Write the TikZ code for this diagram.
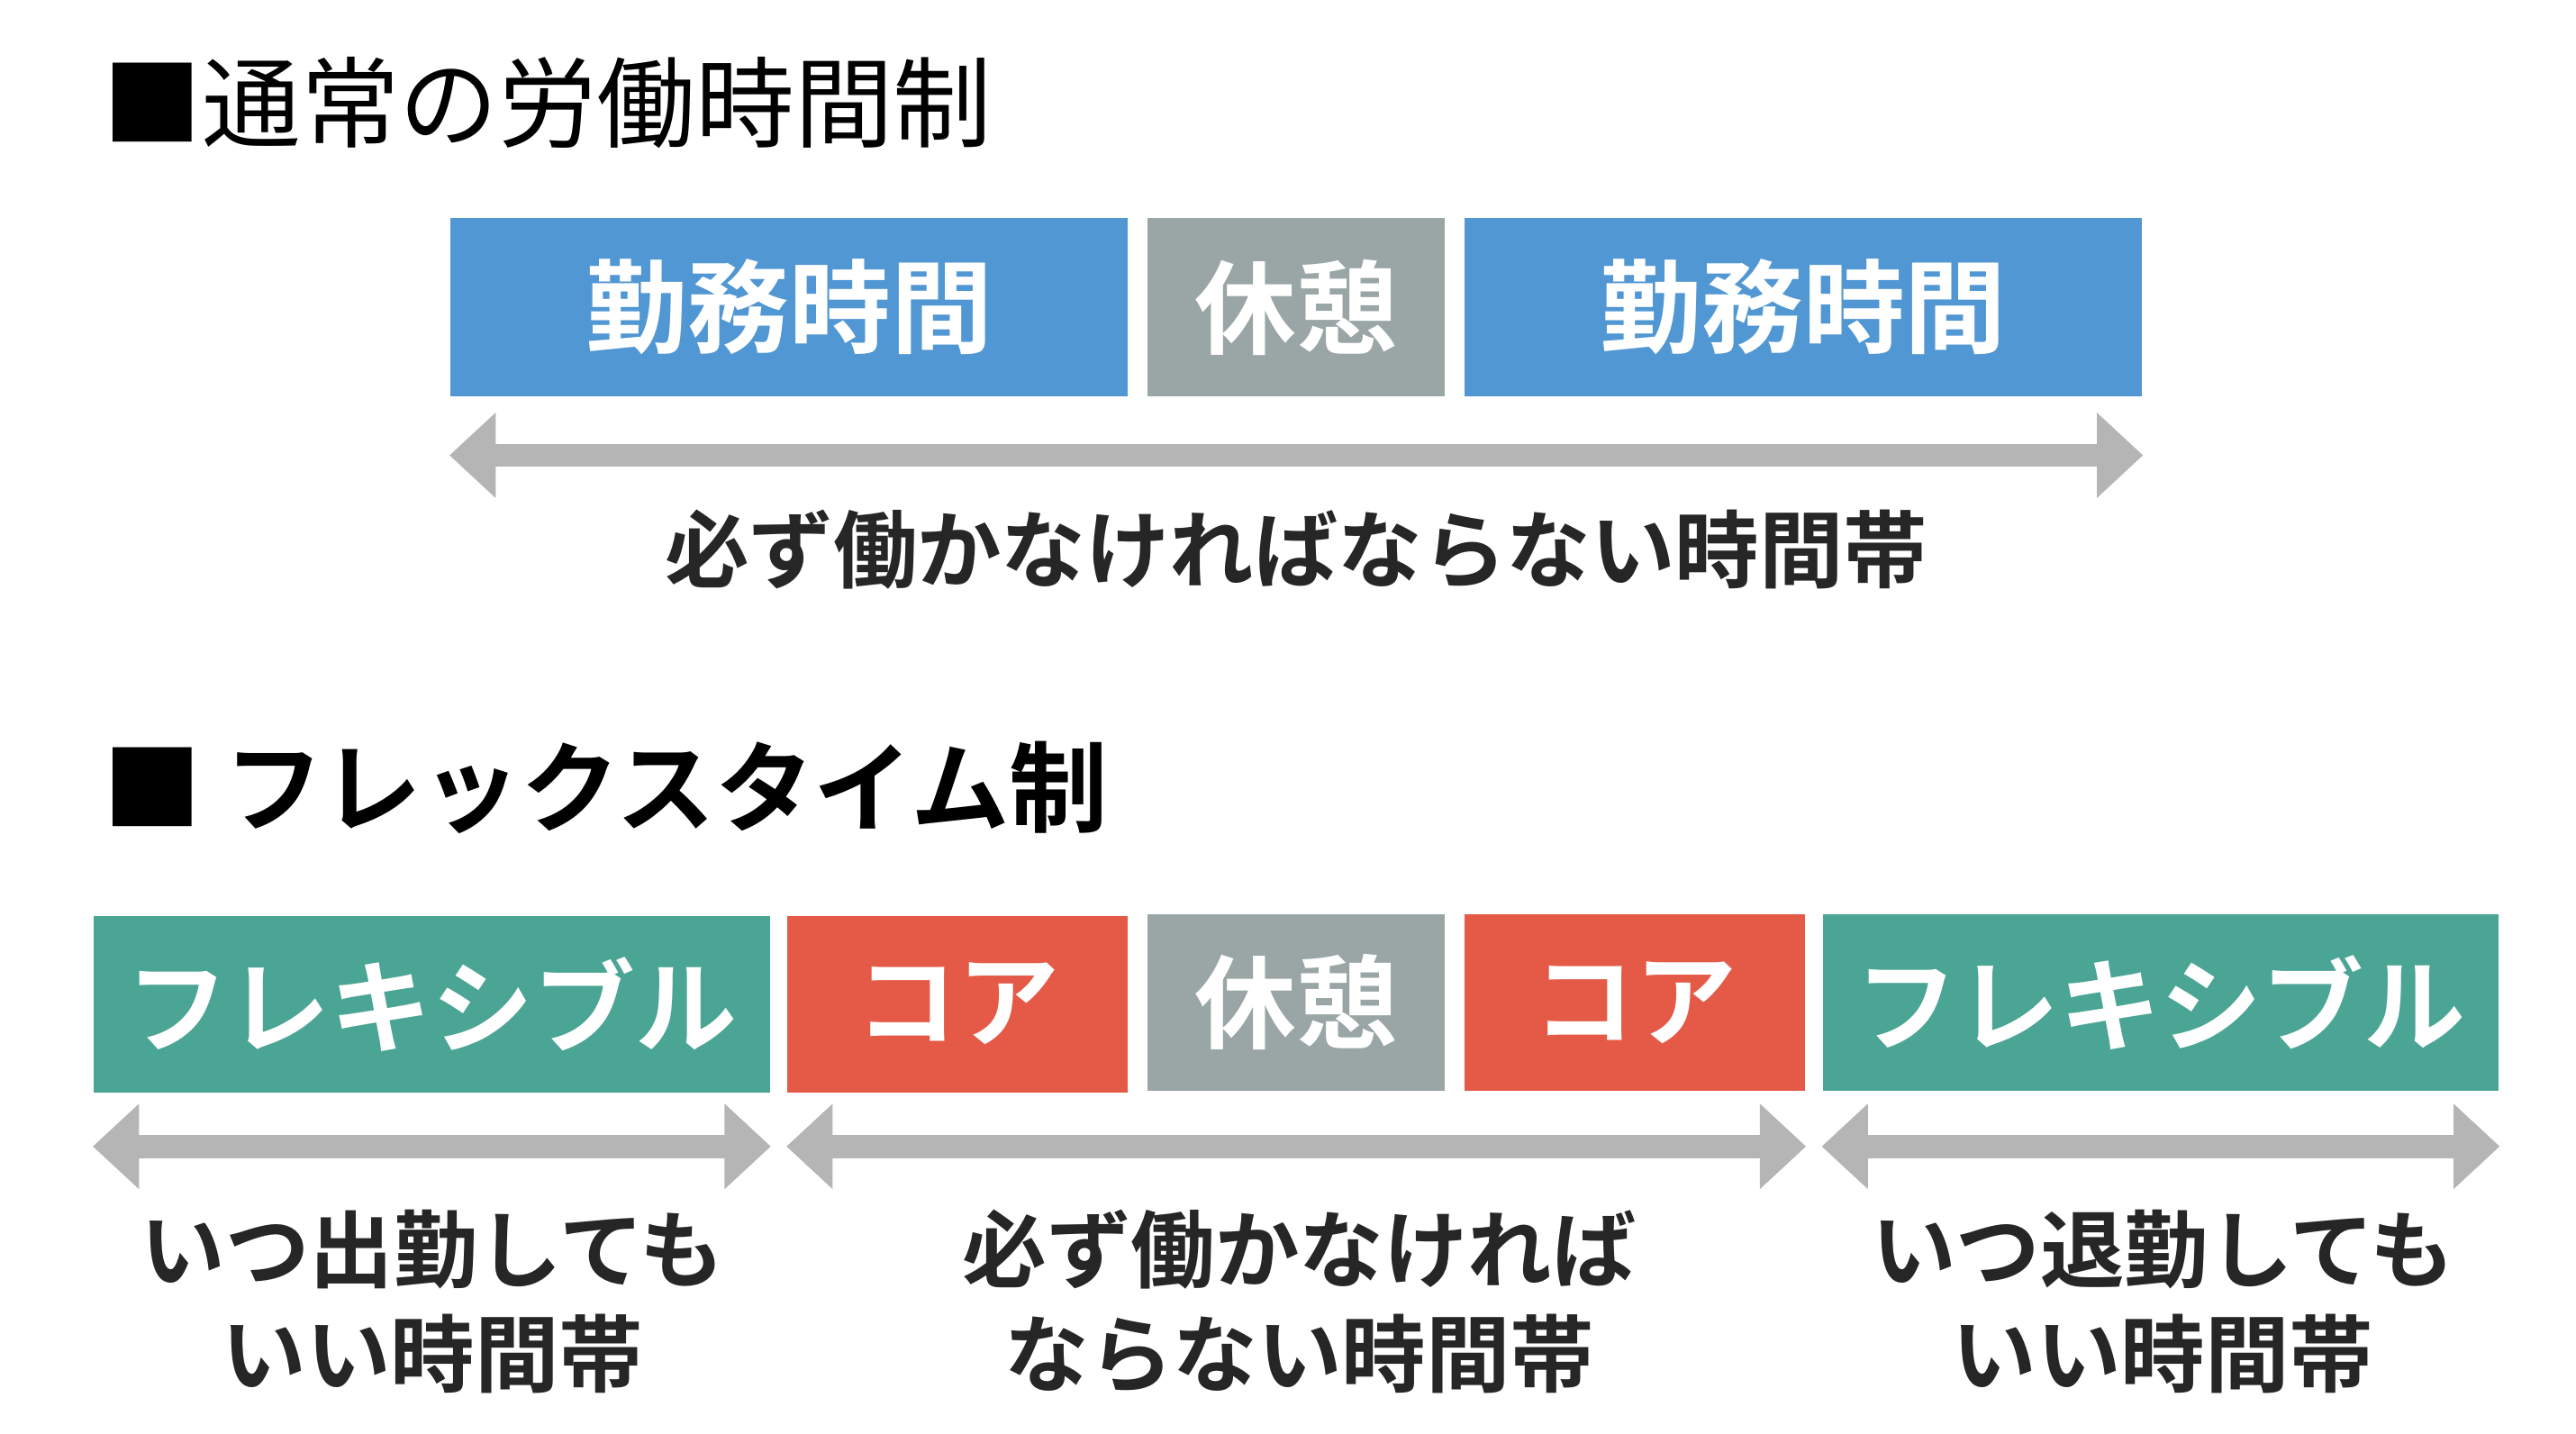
\documentclass[tikz,border=0pt]{standalone}
\usepackage{fontspec}
\newfontfamily\cjk{Noto Sans CJK JP}[BoldFont={Noto Sans CJK JP Bold}]
\usetikzlibrary{arrows.meta,calc}
\definecolor{workblue}{HTML}{5197D3}
\definecolor{restgray}{HTML}{9AA5A5}
\definecolor{flexgreen}{HTML}{4BA594}
\definecolor{corered}{HTML}{E55A47}
\definecolor{spangray}{HTML}{B5B5B5}
\begin{document}
\begin{tikzpicture}[x=0.01cm,y=-0.01cm,
    slot/.style={rectangle, inner sep=0pt, text=white, font=\cjk\bfseries\fontsize{17.5}{18}\selectfont},
    span/.style={{Triangle[width=0.5cm,length=0.28cm]}-{Triangle[width=0.5cm,length=0.28cm]}, line width=0.14cm, draw=spangray},
    caption/.style={font=\cjk\bfseries\fontsize{14.5}{18}\selectfont, align=center, text=black!85}
  ]
  \useasboundingbox (0,0) rectangle (1560,868);
  % titles
  \node[anchor=west, inner sep=0pt, font=\cjk\fontsize{17}{18}\selectfont] (t1) at (62,62) {■通常の労働時間制};
  \node[anchor=west, inner sep=0pt, font=\cjk\bfseries\fontsize{17}{18}\selectfont] (t2) at (62,477) {■ フレックスタイム制};
  % normal scheme
  \node[slot, fill=workblue, minimum width=4.1cm, minimum height=1.08cm] (w1) at (478,186) {勤務時間};
  \node[slot, fill=restgray, minimum width=1.8cm, minimum height=1.08cm] (r1) at (785,186) {休憩};
  \node[slot, fill=workblue, minimum width=4.1cm, minimum height=1.08cm] (w2) at (1092,186) {勤務時間};
  \draw[span] ($(w1.south west)+(0,35)$) -- ($(w2.south east)+(0,35)$);
  \node[caption] (c1) at (785,333) {必ず働かなければならない時間帯};
  % flex scheme
  \node[slot, fill=flexgreen, minimum width=4.09cm, minimum height=1.07cm] (f1) at (261.5,608) {フレキシブル};
  \node[slot, fill=corered, minimum width=2.06cm, minimum height=1.07cm] (k1) at (580,608) {コア};
  \node[slot, fill=restgray, minimum width=1.8cm, minimum height=1.07cm] (r2) at (785,607) {休憩};
  \node[slot, fill=corered, minimum width=2.06cm, minimum height=1.07cm] (k2) at (990,607) {コア};
  \node[slot, fill=flexgreen, minimum width=4.09cm, minimum height=1.07cm] (f2) at (1308.5,607) {フレキシブル};
  \draw[span] ($(f1.south west)+(0,32)$) -- ($(f1.south east)+(0,32)$);
  \draw[span] ($(k1.south west)+(0,32)$) -- ($(k2.south east)+(0,33)$);
  \draw[span] ($(f2.south west)+(0,33)$) -- ($(f2.south east)+(0,33)$);
  \node[caption] (c2) at (262,788) {いつ出勤しても\\いい時間帯};
  \node[caption] (c3) at (787,788) {必ず働かなければ\\ならない時間帯};
  \node[caption] (c4) at (1310,788) {いつ退勤しても\\いい時間帯};
\end{tikzpicture}
\end{document}
